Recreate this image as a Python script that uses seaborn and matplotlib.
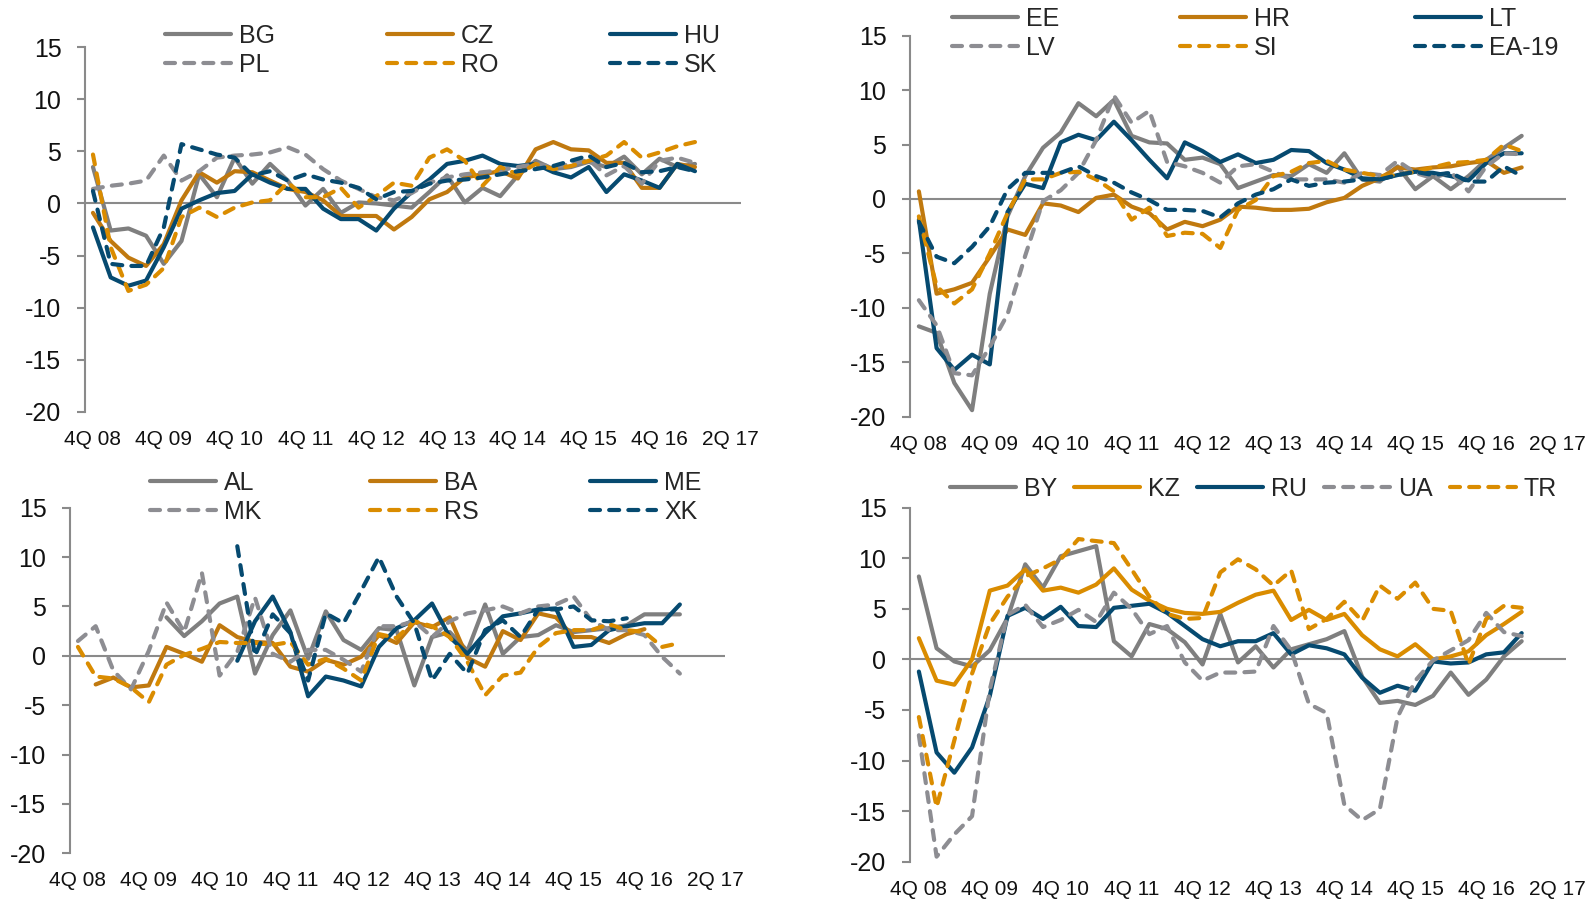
import numpy as np
import pandas as pd
import matplotlib
matplotlib.use("Agg")
import matplotlib.pyplot as plt
import seaborn as sns
from matplotlib.lines import Line2D

nan = np.nan

# ---------------- categories ----------------
quarters = ["4Q08"] + [f"{q}Q{y:02d}" for y in range(9, 18) for q in range(1, 5)][:34]
tick_labels = ["4Q 08", "4Q 09", "4Q 10", "4Q 11", "4Q 12", "4Q 13",
               "4Q 14", "4Q 15", "4Q 16", "2Q 17"]

# ---------------- top-left panel ----------------
BG = [3.5, -2.6, -2.4, -3.1, -5.8, -3.6, 2.8, 0.6, 4.4, 1.9, 3.8, 2.2, -0.2, 1.4, -0.9, 0.1, 0.0, -0.2,
      -0.4, 1.1, 2.7, 0.1, 1.5, 0.7, 2.7, 4.1, 3.3, 3.5, 4.0, 3.5, 4.5, 2.8, 4.3, 3.5, 3.8]
CZ = [-0.9, -3.6, -5.2, -6.0, -3.9, 0.3, 3.0, 2.0, 3.1, 3.0, 2.2, 1.4, 1.1, 0.3, -1.2, -1.2, -1.2, -2.5,
      -1.3, 0.4, 1.1, 2.5, 2.8, 3.1, 2.4, 5.2, 5.9, 5.2, 5.1, 3.9, 3.9, 1.5, 1.5, 3.8, 3.5]
HU = [-2.3, -7.1, -7.9, -7.4, -4.2, -0.5, 0.3, 1.0, 1.2, 2.8, 2.0, 1.4, 1.4, -0.5, -1.5, -1.5, -2.6, -0.5,
      1.1, 2.3, 3.8, 4.1, 4.6, 3.8, 3.6, 3.8, 3.0, 2.5, 3.5, 1.1, 2.8, 2.2, 1.5, 3.8, 3.1]
PL = [1.4, 1.7, 1.9, 2.2, 4.6, 2.2, 3.1, 4.4, 4.6, 4.7, 4.9, 5.4, 4.7, 3.3, 2.2, 1.4, 0.6, 0.3,
      1.0, 2.0, 2.5, 2.8, 3.0, 3.2, 3.5, 3.8, 3.5, 3.8, 4.2, 2.7, 3.6, 1.9, 4.1, 4.4, 3.9]
RO = [4.7, -4.2, -8.4, -7.8, -6.2, -1.3, -0.4, -1.3, -0.4, 0.1, 0.3, 2.0, 0.6, 0.6, 1.5, -0.4, 0.7, 2.0,
      1.7, 4.4, 5.2, 4.1, 1.7, 3.5, 2.8, 3.8, 3.3, 3.6, 4.1, 4.6, 5.9, 4.4, 4.9, 5.5, 5.9]
SK = [1.2, -5.8, -6.0, -6.0, -2.3, 5.7, 5.2, 4.7, 4.4, 2.7, 3.1, 2.2, 2.8, 2.3, 2.0, 1.5, 0.4, 1.1,
      1.2, 1.9, 2.2, 2.3, 2.5, 2.8, 3.1, 3.3, 3.6, 4.1, 4.6, 3.5, 3.9, 3.0, 3.1, 3.5, 3.1]

# ---------------- top-right panel ----------------
EE = [-11.7, -12.3, -16.9, -19.4, -8.7, -1.6, 2.1, 4.7, 6.1, 8.8, 7.6, 9.1, 5.8, 5.2, 5.1, 3.6, 3.8, 3.2,
      1.0, 1.6, 2.2, 2.1, 3.2, 2.4, 4.2, 1.8, 1.6, 3.0, 0.9, 2.1, 0.9, 2.1, 3.6, 4.7, 5.8]
HR = [0.7, -8.7, -8.3, -7.7, -5.3, -2.8, -3.3, -0.4, -0.6, -1.2, 0.1, 0.4, -0.7, -1.3, -2.8, -2.1, -2.5, -1.9,
      -0.7, -0.8, -1.0, -1.0, -0.9, -0.3, 0.1, 1.2, 1.9, 2.9, 2.7, 2.9, 3.0, 3.3, 3.5, 2.4, 2.9]
LT = [-1.9, -13.7, -15.7, -14.3, -15.2, -1.2, 1.4, 1.0, 5.2, 5.9, 5.4, 7.1, 5.4, 3.6, 1.9, 5.2, 4.4, 3.4,
      4.1, 3.3, 3.6, 4.5, 4.4, 3.3, 2.7, 1.9, 1.8, 2.2, 2.5, 2.4, 2.1, 1.7, 3.3, 4.2, 4.2]
LV = [-9.3, -11.6, -16.0, -16.2, -13.6, -10.6, -5.2, -0.2, 0.8, 2.4, 5.4, 9.5, 7.0, 8.1, 3.4, 3.0, 2.4, 1.5,
      3.0, 3.2, 2.5, 1.8, 1.8, 1.8, 1.5, 2.4, 2.2, 3.5, 2.4, 1.9, 2.5, 0.7, 3.0, 4.2, 4.1]
SI = [-1.6, -8.0, -9.6, -8.3, -5.0, -1.3, 1.8, 1.8, 2.4, 2.5, 1.8, 0.7, -1.9, -0.8, -3.4, -3.1, -3.2, -4.5,
      -1.0, -0.1, 2.1, 2.5, 3.3, 3.5, 2.7, 2.4, 2.1, 2.2, 2.5, 2.9, 3.3, 3.4, 3.6, 5.0, 4.4]
EA19 = [-2.1, -5.3, -5.9, -4.4, -2.5, 0.9, 2.4, 2.4, 2.4, 3.0, 2.1, 1.5, 0.6, -0.1, -1.0, -1.0, -1.1, -1.7,
        -0.4, 0.4, 0.9, 1.8, 1.2, 1.5, 1.6, 1.8, 1.8, 2.2, 2.5, 2.2, 2.4, 1.6, 1.6, 3.0, 2.1]

# ---------------- bottom-left panel ----------------
AL = [nan, nan, nan, nan, nan, 3.9, 2.0, 3.5, 5.3, 6.0, -1.8, 2.1, 4.6, -0.3, 4.5, 1.6, 0.6, 2.8,
      2.6, -3.0, 1.9, 2.4, 0.5, 5.2, 0.2, 1.9, 2.1, 3.1, 2.4, 2.6, 2.8, 3.1, 4.2, 4.2, 4.2]
BA = [nan, -2.9, -2.2, -3.2, -3.0, 0.9, 0.2, -0.6, 3.1, 1.9, 1.4, 1.3, -1.1, -1.6, -0.4, -0.9, -0.1, 2.1,
      1.3, 3.4, 2.9, 3.9, -0.2, -1.1, 2.5, 1.6, 4.3, 3.9, 1.9, 1.9, 1.3, 2.2, 2.7, nan, nan]
ME = [nan, nan, nan, nan, nan, nan, nan, nan, nan, -0.5, 3.5, 6.0, 2.4, -4.1, -2.1, -2.5, -3.1, 0.9,
      2.8, 3.6, 5.3, 1.9, 0.2, 2.3, 4.0, 4.3, 4.7, 4.8, 0.9, 1.1, 2.6, 3.0, 3.3, 3.3, 5.2]
MK = [1.5, 3.0, -1.5, -3.4, 0.5, 5.4, 2.4, 8.4, -2.0, 0.4, 5.9, 0.2, -0.6, 0.6, 0.6, -0.4, -1.6, 3.0,
      3.0, 3.5, 1.9, 3.5, 4.3, 4.6, 5.0, 4.3, 5.0, 5.2, 6.0, 3.6, 2.6, 2.6, 2.1, -0.1, -1.8]
RS = [0.9, -2.1, -2.3, -3.2, -4.7, -0.9, 0.1, 0.7, 1.4, 1.3, 1.3, 1.1, 1.4, -0.9, -0.3, -1.3, -2.5, 2.2,
      1.8, 3.5, 3.0, 1.9, -0.6, -4.0, -2.0, -1.7, 0.9, 2.3, 2.6, 2.6, 3.2, 2.6, 2.4, 0.9, 1.3]
XK = [nan, nan, nan, nan, nan, nan, nan, nan, nan, 11.1, 0.0, 4.2, 2.3, -2.5, 4.3, 3.3, 6.6, 10.0,
      6.0, 3.3, -2.5, 0.2, -1.8, 2.6, 3.6, 1.9, 4.7, 4.7, 5.0, 3.6, 3.5, 3.8, nan, nan, nan]

# ---------------- bottom-right panel ----------------
BY = [8.2, 1.1, -0.2, -0.7, 0.9, 4.1, 9.4, 7.1, 10.2, 10.7, 11.2, 1.8, 0.3, 3.5, 3.0, 1.7, -0.5, 4.5,
      -0.3, 1.3, -0.8, 1.0, 1.5, 2.0, 2.8, -1.7, -4.3, -4.1, -4.5, -3.6, -1.3, -3.5, -2.0, 0.3, 1.8]
KZ = [2.1, -2.1, -2.5, 0.0, 6.8, 7.3, 8.9, 6.8, 7.1, 6.6, 7.4, 9.0, 6.9, 5.8, 5.0, 4.6, 4.5, 4.7,
      5.6, 6.4, 6.8, 3.9, 4.9, 3.9, 4.5, 2.4, 1.0, 0.3, 1.5, 0.0, 0.3, 0.8, 2.4, 3.5, 4.7]
RU = [-1.2, -9.2, -11.2, -8.7, -3.6, 4.3, 5.1, 4.0, 5.2, 3.3, 3.2, 5.1, 5.3, 5.5, 4.6, 3.3, 2.0, 1.3,
      1.8, 1.8, 2.6, 0.5, 1.4, 1.1, 0.5, -1.8, -3.3, -2.6, -3.1, -0.2, -0.4, -0.3, 0.5, 0.7, 2.6]
UA = [-7.5, -19.5, -17.3, -15.5, -3.0, 4.4, 5.4, 3.2, 3.9, 4.9, 3.7, 6.6, 5.0, 2.5, 3.3, -0.3, -2.1, -1.3,
      -1.3, -1.2, 3.3, 0.9, -4.4, -5.3, -14.4, -15.9, -14.8, -5.7, -2.1, -0.1, 0.9, 1.9, 4.6, 2.7, 2.3]
TR = [-5.7, -14.6, -8.0, -1.4, 3.5, 6.2, 8.2, 9.0, 9.9, 11.9, 11.7, 11.5, 8.9, 6.2, 4.5, 4.0, 4.1, 8.6,
      9.9, 8.9, 7.3, 8.8, 3.0, 4.0, 5.7, 3.8, 7.3, 6.0, 7.6, 5.0, 4.8, -0.5, 4.0, 5.3, 5.1]

# ---------------- styling ----------------
GRAY = "#7F7F7F"
GRAY_D = "#8D8D92"
BROWN = "#C0790F"
AMBER = "#DA8C00"
NAVY = "#064A70"
AXIS_C = "#8A8A8A"
W, H = 1590, 900
LW = 3.0
DASH = (2.4, 2.2)

sns.set_theme(style="white")
plt.rcParams["font.family"] = ["Liberation Sans", "DejaVu Sans"]
plt.rcParams["axes.unicode_minus"] = False

fig = plt.figure(figsize=(W / 100, H / 100), dpi=100)
x_pos = np.arange(len(quarters))
tick_pos = np.arange(0, 37, 4)


def make_ax(left, right, top, bottom, x0, xmax):
    ax = fig.add_axes([left / W, 1 - bottom / H, (right - left) / W, (bottom - top) / H])
    ax.set_xlim(x0, xmax)
    ax.set_ylim(-20, 15)
    for s in ["top", "right", "bottom"]:
        ax.spines[s].set_visible(False)
    ax.spines["left"].set_color(AXIS_C)
    ax.spines["left"].set_linewidth(1.5)
    ax.axhline(0, color=AXIS_C, lw=1.5, zorder=1)
    ax.set_yticks(np.arange(-20, 16, 5))
    ax.set_xticks(tick_pos)
    ax.set_xticklabels(tick_labels)
    ax.tick_params(axis="y", direction="out", length=6, width=1.5, color=AXIS_C,
                   labelsize=18, pad=11, left=True, labelcolor="#111111")
    ax.tick_params(axis="x", length=0, labelsize=15, pad=13, labelcolor="#111111")
    ax.grid(False)
    ax.set_xlabel("")
    ax.set_ylabel("")
    return ax


def draw(ax, vals, color, dashed):
    df = pd.DataFrame({"q": x_pos, "v": vals}).dropna()
    sns.lineplot(data=df, x="q", y="v", ax=ax, color=color, linewidth=LW,
                 errorbar=None, estimator=None, sort=False, zorder=3)
    ln = ax.lines[-1]
    ln.set_solid_capstyle("round")
    ln.set_solid_joinstyle("round")
    ln.set_dash_capstyle("round")
    if dashed:
        ln.set_dashes(DASH)
    ax.set_xlabel("")
    ax.set_ylabel("")


def handle(color, dashed):
    h = Line2D([], [], color=color, lw=LW, solid_capstyle="round", dash_capstyle="round")
    if dashed:
        h.set_dashes(DASH)
    return h


def legend_col(entries, xpx, ytop):
    hs = [handle(c, d) for (_, c, d) in entries]
    labs = [n for (n, _, _) in entries]
    fig.legend(hs, labs, loc="upper left", bbox_to_anchor=(xpx / W, 1 - ytop / H),
               frameon=False, borderpad=0, borderaxespad=0, handlelength=2.64,
               handletextpad=0.32, labelspacing=0.2, fontsize=18)


panels = [
    dict(box=(85, 741, 47.3, 411.7), xl=(-0.45, 36.6),
         series=[("BG", BG, GRAY, False), ("CZ", CZ, BROWN, False), ("HU", HU, NAVY, False),
                 ("PL", PL, GRAY_D, True), ("RO", RO, AMBER, True), ("SK", SK, NAVY, True)],
         cols=[165, 387, 610], ytop=24),
    dict(box=(910, 1566, 35.7, 416.7), xl=(-0.5, 36.5),
         series=[("EE", EE, GRAY, False), ("HR", HR, BROWN, False), ("LT", LT, NAVY, False),
                 ("LV", LV, GRAY_D, True), ("SI", SI, AMBER, True), ("EA-19", EA19, NAVY, True)],
         cols=[952, 1180, 1415], ytop=7),
    dict(box=(70, 725, 507.7, 853.3), xl=(-0.45, 36.55),
         series=[("AL", AL, GRAY, False), ("BA", BA, BROWN, False), ("ME", ME, NAVY, False),
                 ("MK", MK, GRAY_D, True), ("RS", RS, AMBER, True), ("XK", XK, NAVY, True)],
         cols=[150, 370, 590], ytop=471),
]

for p in panels:
    l, r, t, b = p["box"]
    ax = make_ax(l, r, t, b, *p["xl"])
    for name, vals, c, d in p["series"]:
        draw(ax, vals, c, d)
    s = p["series"]
    for k, xpx in enumerate(p["cols"]):
        legend_col([(s[k][0], s[k][2], s[k][3]), (s[k + 3][0], s[k + 3][2], s[k + 3][3])], xpx, p["ytop"])

# bottom-right panel
ax = make_ax(910, 1566, 507.7, 861.7, -0.5, 36.5)
br = [("BY", BY, GRAY, False), ("KZ", KZ, AMBER, False), ("RU", RU, NAVY, False),
      ("UA", UA, GRAY_D, True), ("TR", TR, AMBER, True)]
for name, vals, c, d in br:
    draw(ax, vals, c, d)
for (name, vals, c, d), xpx in zip(br, [950, 1074, 1197, 1324, 1450]):
    legend_col([(name, c, d)], xpx, 477)

fig.savefig("out.png", dpi=100)
